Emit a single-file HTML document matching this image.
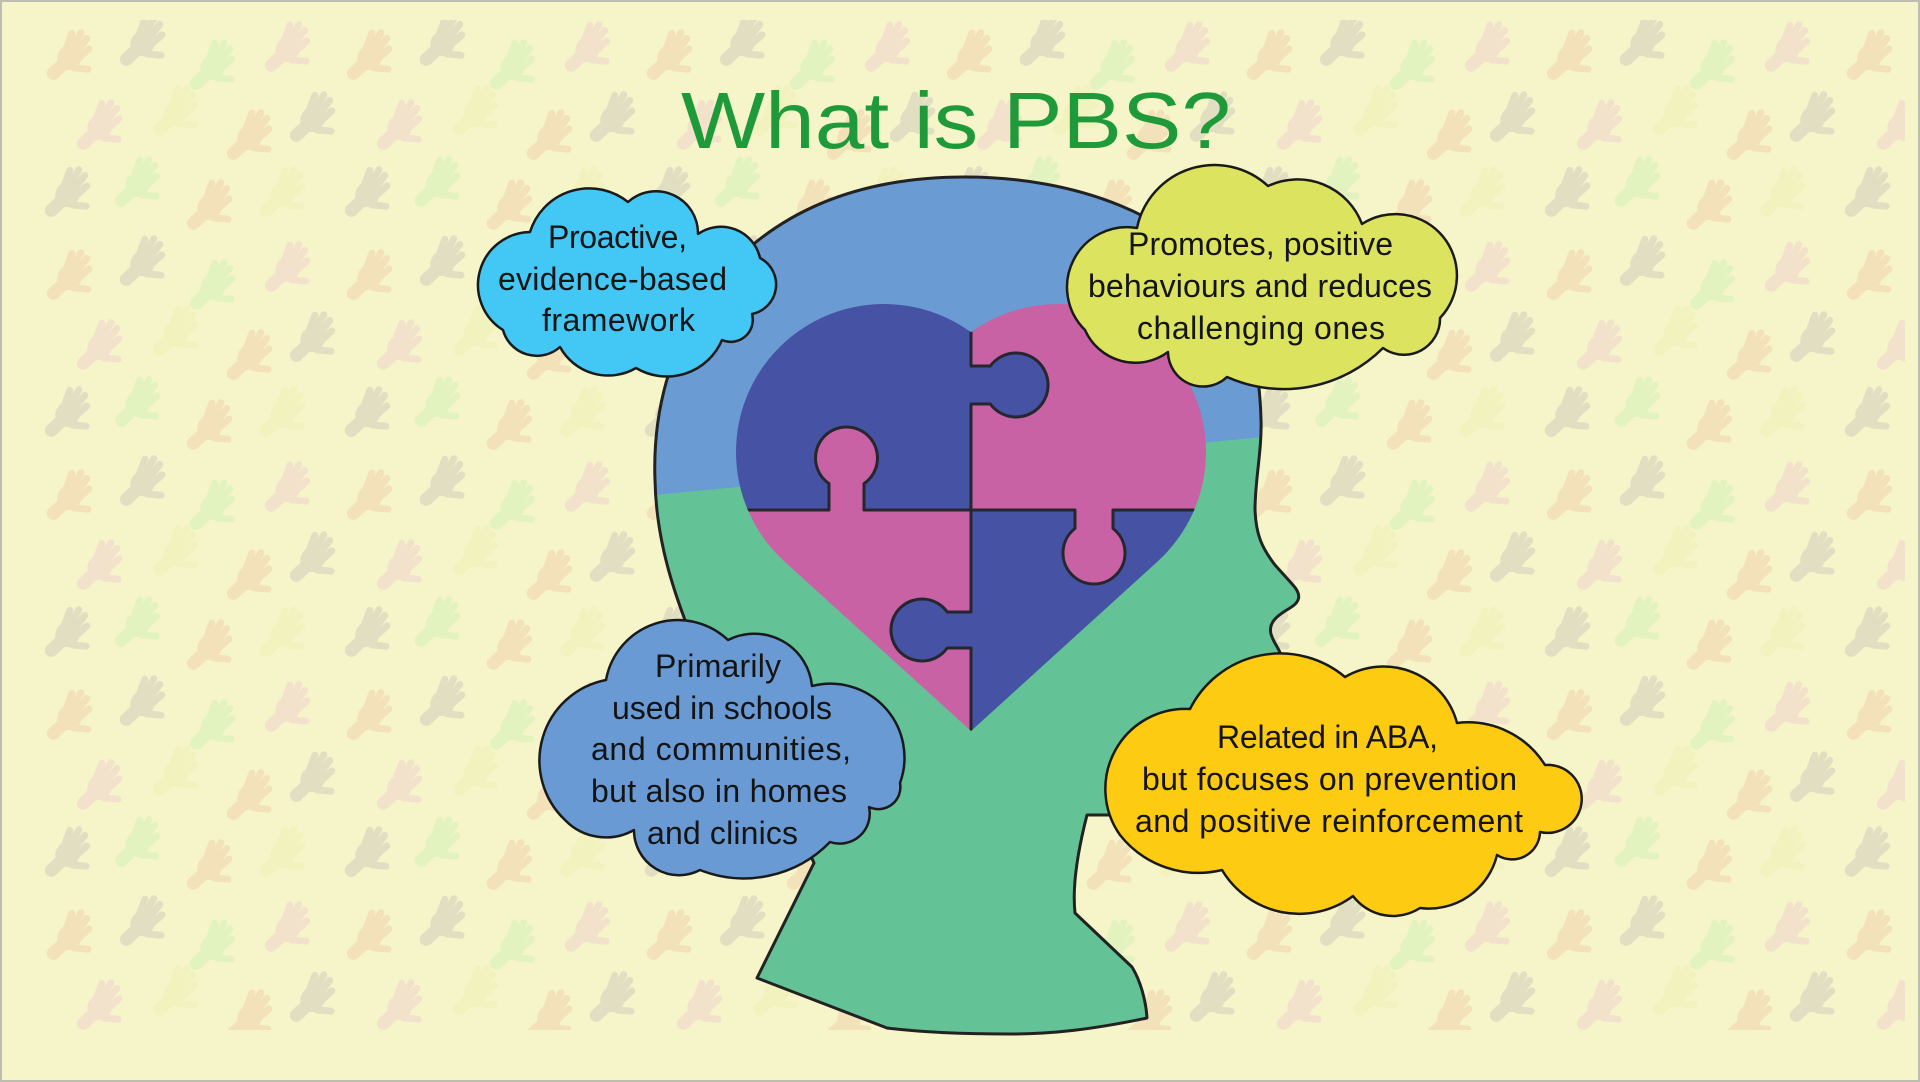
<!DOCTYPE html>
<html>
<head>
<meta charset="utf-8">
<style>
  html,body{margin:0;padding:0;background:#f6f5c9;overflow:hidden;}
  svg{display:block;}
  .t{font-family:"Liberation Sans",Arial,sans-serif;fill:#141414;font-size:32px;}
</style>
</head>
<body>
<svg width="1920" height="1082" viewBox="0 0 1920 1082" xmlns="http://www.w3.org/2000/svg" xmlns:xlink="http://www.w3.org/1999/xlink">
  <defs>
    <g id="hd" transform="rotate(30)">
      <ellipse cx="0" cy="5" rx="12" ry="13" fill="currentColor"/>
      <path d="M-7,0 L-10,-17 M-2.5,-3 L-2.5,-22 M3,-2 L5.5,-20 M8,2 L12.5,-12 M9,12 L22,6" stroke="currentColor" stroke-width="7" stroke-linecap="round" fill="none"/>
      <path d="M-2,14 L-6,27" stroke="currentColor" stroke-width="13" stroke-linecap="round"/>
    </g>
    <pattern id="hp" width="300" height="220" patternUnits="userSpaceOnUse" x="40" y="15">
      <use href="#hd" x="32" y="38" style="color:#f1dab4"/>
      <use href="#hd" x="105" y="24" style="color:#dad6c0"/>
      <use href="#hd" x="175" y="48" style="color:#dcf2bc"/>
      <use href="#hd" x="250" y="30" style="color:#f2dccc"/>
      <use href="#hd" x="62" y="108" style="color:#f2dccc"/>
      <use href="#hd" x="138" y="94" style="color:#f1f1bc"/>
      <use href="#hd" x="212" y="118" style="color:#f1dab4"/>
      <use href="#hd" x="275" y="100" style="color:#dad6c0"/>
      <use href="#hd" x="30" y="175" style="color:#dad6c0"/>
      <use href="#hd" x="100" y="165" style="color:#dcf2bc"/>
      <use href="#hd" x="172" y="188" style="color:#f1dab4"/>
      <use href="#hd" x="245" y="175" style="color:#f1f1bc"/>
    </pattern>
    <clipPath id="headClip">
      <path d="M655,480 C652,400 678,310 750,247 C810,196 885,177 965,177 C1075,177 1180,215 1228,290 C1252,330 1260,375 1261,420 C1262,450 1255,480 1255,510 C1256,535 1262,548 1275,565 L1293,585 C1302,595 1300,602 1290,608 C1278,615 1268,622 1271,634 C1274,645 1283,652 1283,665 L1270,720 L1150,790 L1112,815 L1087,815 C1078,850 1072,885 1075,913 L1132,967 C1140,980 1146,1000 1147,1018 C1090,1030 1050,1034 1010,1034 C960,1034 920,1032 887,1028 L757,978 L814,863 C800,830 770,790 740,740 C712,690 694,650 685,620 C668,575 656,530 655,480 Z"/>
    </clipPath>
    <clipPath id="heartClip">
      <circle cx="884" cy="452" r="148"/>
      <circle cx="1058" cy="452" r="148"/>
      <polygon points="784.4,561.5 884,452 1058,452 1157.6,561.5 971,731"/>
    </clipPath>
  </defs>

  <!-- background -->
  <rect x="0" y="0" width="1920" height="1082" fill="#f6f5c9"/>
  <rect x="45" y="20" width="1860" height="1010" fill="url(#hp)" opacity="0.75"/>
  <rect x="1" y="1" width="1918" height="1080" fill="none" stroke="#bdbdb2" stroke-width="2"/>

  <!-- title -->
  <text x="681" y="148" textLength="550" lengthAdjust="spacingAndGlyphs" style="font-family:'Liberation Sans',Arial,sans-serif;font-size:80px;fill:#1f9a3b;">What is PBS?</text>

  <!-- head -->
  <path d="M655,480 C652,400 678,310 750,247 C810,196 885,177 965,177 C1075,177 1180,215 1228,290 C1252,330 1260,375 1261,420 C1262,450 1255,480 1255,510 C1256,535 1262,548 1275,565 L1293,585 C1302,595 1300,602 1290,608 C1278,615 1268,622 1271,634 C1274,645 1283,652 1283,665 L1270,720 L1150,790 L1112,815 L1087,815 C1078,850 1072,885 1075,913 L1132,967 C1140,980 1146,1000 1147,1018 C1090,1030 1050,1034 1010,1034 C960,1034 920,1032 887,1028 L757,978 L814,863 C800,830 770,790 740,740 C712,690 694,650 685,620 C668,575 656,530 655,480 Z" fill="#64c396"/>
  <g clip-path="url(#headClip)">
    <polygon points="600,120 1320,120 1320,431.6 600,500.2" fill="#6b9bd3"/>
  </g>
  <path d="M655,480 C652,400 678,310 750,247 C810,196 885,177 965,177 C1075,177 1180,215 1228,290 C1252,330 1260,375 1261,420 C1262,450 1255,480 1255,510 C1256,535 1262,548 1275,565 L1293,585 C1302,595 1300,602 1290,608 C1278,615 1268,622 1271,634 C1274,645 1283,652 1283,665 L1270,720 L1150,790 L1112,815 L1087,815 C1078,850 1072,885 1075,913 L1132,967 C1140,980 1146,1000 1147,1018 C1090,1030 1050,1034 1010,1034 C960,1034 920,1032 887,1028 L757,978 L814,863 C800,830 770,790 740,740 C712,690 694,650 685,620 C668,575 656,530 655,480 Z" fill="none" stroke="#222" stroke-width="3" stroke-linejoin="round"/>

  <!-- heart puzzle -->
  <g clip-path="url(#heartClip)">
    <rect x="700" y="290" width="271" height="220" fill="#4652a3"/>
    <rect x="971" y="290" width="260" height="220" fill="#c862a5"/>
    <rect x="700" y="510" width="271" height="230" fill="#c862a5"/>
    <rect x="971" y="510" width="260" height="230" fill="#4652a3"/>
    <rect x="965" y="366" width="30" height="38" fill="#4652a3"/>
    <circle cx="1016" cy="385" r="32" fill="#4652a3"/>
    <rect x="829" y="475" width="35" height="40" fill="#c862a5"/>
    <circle cx="846.5" cy="458" r="31" fill="#c862a5"/>
    <rect x="1075" y="505" width="38" height="30" fill="#c862a5"/>
    <circle cx="1094" cy="553" r="31" fill="#c862a5"/>
    <rect x="942" y="612" width="34" height="36" fill="#4652a3"/>
    <circle cx="922" cy="630" r="31" fill="#4652a3"/>
    <path d="M971,320 L971,366 L990.3,366 A32 32 0 1 1 990.3,404 L971,404 L971,612 L947.2,612 A31 31 0 1 0 947.2,648 L971,648 L971,745" fill="none" stroke="#26262e" stroke-width="3" stroke-linejoin="round"/>
    <path d="M720,510 L829,510 L829,483.6 A31 31 0 1 1 864,483.6 L864,510 L1075,510 L1075,528.5 A31 31 0 1 0 1113,528.5 L1113,510 L1230,510" fill="none" stroke="#26262e" stroke-width="3" stroke-linejoin="round"/>
  </g>

  <!-- cloud 1 (cyan) -->
  <path d="M530,232 A62 62 0 0 1 628,202 A42 42 0 0 1 698,234 A40 40 0 0 1 760,258 A30 30 0 0 1 752,314 A22 22 0 0 1 722,340 A60 60 0 0 1 636,368 A55 55 0 0 1 560,347 A35 35 0 0 1 503,330 A53 53 0 0 1 530,232 Z" fill="#43c7f4" stroke="#1a1a1a" stroke-width="2.5" stroke-linejoin="round"/>
  <text class="t" x="548" y="248" textLength="139">Proactive,</text>
  <text class="t" x="498" y="290" textLength="229">evidence-based</text>
  <text class="t" x="542" y="331" textLength="153">framework</text>

  <!-- cloud 2 (yellow-green) -->
  <path d="M1137,228 A79 79 0 0 1 1268,186 A69 69 0 0 1 1362,224 A61.5 61.5 0 0 1 1440,318 A36 36 0 0 1 1383,348 A140 140 0 0 1 1227,377 A35 35 0 0 1 1168,352 A55 55 0 0 1 1085,330 A60 60 0 0 1 1137,228 Z" fill="#dbe35f" stroke="#1a1a1a" stroke-width="2.5" stroke-linejoin="round"/>
  <text class="t" x="1128" y="255" textLength="265">Promotes, positive</text>
  <text class="t" x="1088" y="297" textLength="344">behaviours and reduces</text>
  <text class="t" x="1137" y="339" textLength="248">challenging ones</text>

  <!-- cloud 3 (blue) -->
  <path d="M606,680 A73 73 0 0 1 728,640 A58 58 0 0 1 812,686 A74 74 0 0 1 900,783 A22 22 0 0 1 869,807 A30 30 0 0 1 830,842 A120 120 0 0 1 700,870 A45 45 0 0 1 634,830 A57 57 0 0 1 565,820 A82 82 0 0 1 606,680 Z" fill="#6a9ad4" stroke="#1a1a1a" stroke-width="2.5" stroke-linejoin="round"/>
  <text class="t" x="655" y="677" textLength="126">Primarily</text>
  <text class="t" x="612" y="719" textLength="220">used in schools</text>
  <text class="t" x="591" y="760" textLength="260">and communities,</text>
  <text class="t" x="591" y="802" textLength="256">but also in homes</text>
  <text class="t" x="647" y="844" textLength="151">and clinics</text>

  <!-- cloud 4 (gold) -->
  <path d="M1190,709 A101 101 0 0 1 1345,677 A76 76 0 0 1 1457,723 A91 91 0 0 1 1545,765 A34 34 0 1 1 1540,832 A28 28 0 0 1 1497,855 A70 70 0 0 1 1420,908 A50 50 0 0 1 1353,896 A90 90 0 0 1 1222,870 A100 100 0 0 1 1120,835 A80 80 0 0 1 1190,709 Z" fill="#fdcb12" stroke="#1a1a1a" stroke-width="2.5" stroke-linejoin="round"/>
  <text class="t" x="1217" y="748" textLength="221">Related in ABA,</text>
  <text class="t" x="1142" y="790" textLength="375">but focuses on prevention</text>
  <text class="t" x="1135" y="832" textLength="388">and positive reinforcement</text>
</svg>
</body>
</html>
